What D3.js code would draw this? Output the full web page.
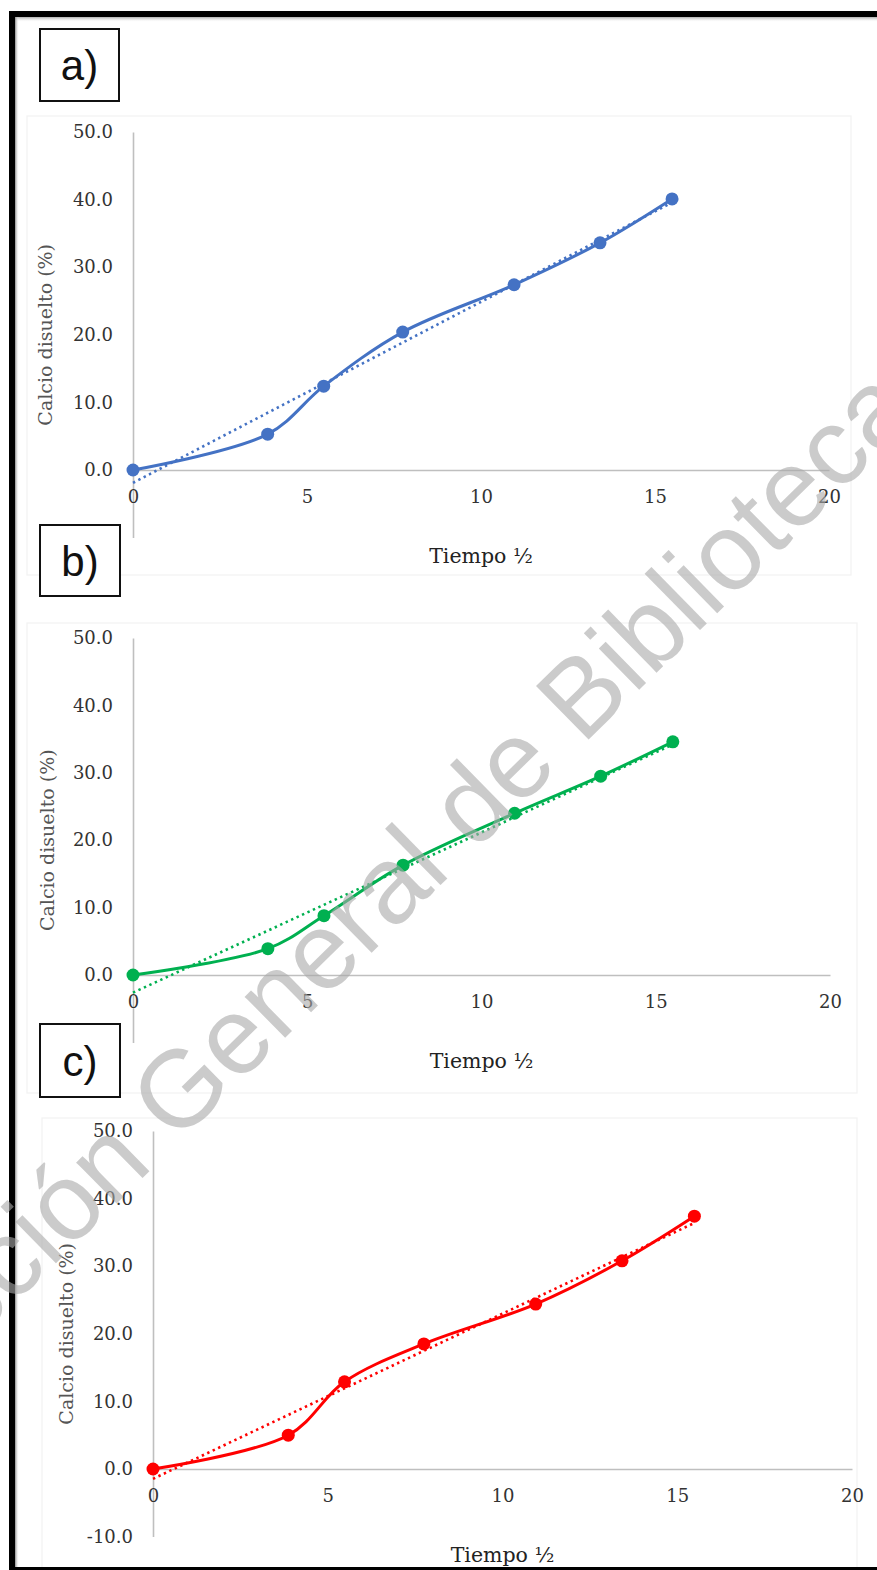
<!DOCTYPE html>
<html>
<head>
<meta charset="utf-8">
<script src="https://cdn.jsdelivr.net/npm/d3@7"></script>
<style>
  html, body { margin: 0; padding: 0; background: #fff; }
  svg { display: block; }
</style>
</head>
<body>
<svg id="fig" width="877" height="1570"></svg>
<script>
// Square root of time (x) and dissolved calcium (%) for each test
const sqrtTime = [0, 3.87, 5.48, 7.75, 10.95, 13.42, 15.49];
const calcioA  = [0, 5.3, 12.4, 20.4, 27.4, 33.6, 40.1];
const calcioB  = [0, 3.9, 8.8, 16.3, 24.0, 29.5, 34.6];
const calcioC  = [0, 5.0, 12.9, 18.5, 24.4, 30.8, 37.4];

const xTicks = [0, 5, 10, 15, 20];
const yTicksFull = [-10, 0, 10, 20, 30, 40, 50];
const yTicksUpper = [0, 10, 20, 30, 40, 50];   // -10 label sits under the next panel's tag
const panelLabels = ["a)", "b)", "c)"];
const seriesColors = ["#4472C4", "#00B050", "#FF0000"];
const xTitle = "Tiempo \u00BD";
const yTitle = "Calcio disuelto (%)";
const watermarkText = "Direcci\u00F3n General de Bibliotecas";

const series = [calcioA, calcioB, calcioC];
const yTickSets = [yTicksUpper, yTicksUpper, yTicksFull];

// Page layout of the three stacked charts
const layout = [
  { x0: 133, x1: 829, yTop: 132,  yBot: 537.6,  frame: [27, 116, 824, 459], box: [40, 29, 79, 72] , titleY: 563,  yTitleX: 45 },
  { x0: 133, x1: 830, yTop: 638,  yBot: 1042.4, frame: [27, 623, 830, 470], box: [40, 525, 80, 71], titleY: 1068, yTitleX: 47 },
  { x0: 153, x1: 852, yTop: 1131, yBot: 1536.6, frame: [42, 1118, 815, 470], box: [40, 1024, 80, 73], titleY: 1562, yTitleX: 66 }
];

const svg = d3.select("#fig");
const serif = "'DejaVu Serif', 'Liberation Serif', serif";

// white page
svg.append("rect").attr("width", 877).attr("height", 1570).attr("fill", "#fff");

function linearFit(xs, ys) {
  const mx = d3.mean(xs), my = d3.mean(ys);
  let sxy = 0, sxx = 0;
  xs.forEach((x, i) => { sxy += (x - mx) * (ys[i] - my); sxx += (x - mx) * (x - mx); });
  const slope = sxy / sxx;
  return { slope, intercept: my - slope * mx };
}

layout.forEach((L, i) => {
  const g = svg.append("g");
  const x = d3.scaleLinear().domain([0, 20]).range([L.x0, L.x1]);
  const y = d3.scaleLinear().domain([-10, 50]).range([L.yBot, L.yTop]);
  const color = seriesColors[i];
  const vals = series[i];
  const pts = sqrtTime.map((t, k) => [t, vals[k]]);

  // faint chart-area outline
  g.append("rect")
    .attr("x", L.frame[0]).attr("y", L.frame[1])
    .attr("width", L.frame[2]).attr("height", L.frame[3])
    .attr("fill", "none").attr("stroke", "#f2f2f2").attr("stroke-width", 1.2);

  // y axis
  const ya = g.append("g").attr("transform", `translate(${L.x0},0)`)
    .call(d3.axisLeft(y).tickValues(yTickSets[i]).tickFormat(d => d.toFixed(1))
      .tickSize(0).tickSizeOuter(0).tickPadding(20));
  ya.select(".domain").attr("stroke", "#bfbfbf").attr("stroke-width", 1.6);
  ya.selectAll("text").attr("font-family", serif).attr("font-size", 18).attr("fill", "#333");

  // x axis along y = 0
  const xa = g.append("g").attr("transform", `translate(0,${y(0)})`)
    .call(d3.axisBottom(x).tickValues(xTicks).tickFormat(d3.format("d"))
      .tickSize(0).tickSizeOuter(0).tickPadding(20));
  xa.select(".domain").attr("stroke", "#bfbfbf").attr("stroke-width", 1.6);
  xa.selectAll("text").attr("font-family", serif).attr("font-size", 18).attr("fill", "#333");

  // axis titles
  g.append("text")
    .attr("x", (L.x0 + L.x1) / 2).attr("y", L.titleY)
    .attr("text-anchor", "middle")
    .attr("font-family", serif).attr("font-size", 20.5).attr("fill", "#222")
    .text(xTitle);
  g.append("text")
    .attr("transform", `translate(${L.yTitleX},${(L.yTop + L.yBot) / 2}) rotate(-90)`)
    .attr("text-anchor", "middle").attr("dy", "0.35em")
    .attr("font-family", serif).attr("font-size", 19).attr("fill", "#555")
    .text(yTitle);

  // linear trend (dotted)
  const fit = linearFit(sqrtTime, vals);
  const xEnd = d3.max(sqrtTime);
  g.append("line")
    .attr("x1", x(0)).attr("y1", y(fit.intercept))
    .attr("x2", x(xEnd)).attr("y2", y(fit.intercept + fit.slope * xEnd))
    .attr("stroke", color).attr("stroke-width", 2.6)
    .attr("stroke-dasharray", "2.4,3.6");

  // smoothed data line
  const line = d3.line().x(d => x(d[0])).y(d => y(d[1]))
    .curve(d3.curveCatmullRom.alpha(0.5));
  g.append("path").datum(pts)
    .attr("d", line).attr("fill", "none")
    .attr("stroke", color).attr("stroke-width", 3)
    .attr("stroke-linejoin", "round").attr("stroke-linecap", "round");

  // markers
  g.selectAll("circle.pt").data(pts).join("circle")
    .attr("class", "pt")
    .attr("cx", d => x(d[0])).attr("cy", d => y(d[1]))
    .attr("r", 6.5).attr("fill", color);

  // panel label box
  const [bx, by, bw, bh] = L.box;
  svg.append("rect").attr("x", bx).attr("y", by).attr("width", bw).attr("height", bh)
    .attr("fill", "#fff").attr("stroke", "#111").attr("stroke-width", 2);
  svg.append("text").attr("x", bx + bw / 2).attr("y", by + bh / 2 + 15)
    .attr("text-anchor", "middle")
    .attr("font-family", "'Liberation Sans', Arial, sans-serif").attr("font-size", 42)
    .attr("fill", "#111").text(panelLabels[i]);
});

// outer frame with soft shadow
const defs = svg.append("defs");
const gv = defs.append("linearGradient").attr("id", "shTop").attr("x1", 0).attr("y1", 0).attr("x2", 0).attr("y2", 1);
gv.append("stop").attr("offset", 0).attr("stop-color", "#8a8a8a");
gv.append("stop").attr("offset", 1).attr("stop-color", "#fff").attr("stop-opacity", 0);
const gh = defs.append("linearGradient").attr("id", "shLeft").attr("x1", 0).attr("y1", 0).attr("x2", 1).attr("y2", 0);
gh.append("stop").attr("offset", 0).attr("stop-color", "#8a8a8a");
gh.append("stop").attr("offset", 1).attr("stop-color", "#fff").attr("stop-opacity", 0);
svg.append("rect").attr("x", 15).attr("y", 16).attr("width", 862).attr("height", 6).attr("fill", "url(#shTop)");
svg.append("rect").attr("x", 15).attr("y", 16).attr("width", 4).attr("height", 1554).attr("fill", "url(#shLeft)");
svg.append("rect").attr("x", 12).attr("y", 14).attr("width", 900).attr("height", 1556)
  .attr("fill", "none").attr("stroke", "#000").attr("stroke-width", 6);

// diagonal watermark
const wm = svg.append("text")
  .attr("font-family", "'Liberation Sans', Arial, sans-serif")
  .attr("font-size", 109).attr("fill", "#a8a8a8").attr("fill-opacity", 0.6)
  .text(watermarkText);
const gIndex = watermarkText.indexOf("G");
const gPos = wm.node().getStartPositionOfChar(gIndex);
wm.attr("transform", `translate(176,1145) rotate(-44.5) translate(${-gPos.x},0)`);
</script>
</body>
</html>
